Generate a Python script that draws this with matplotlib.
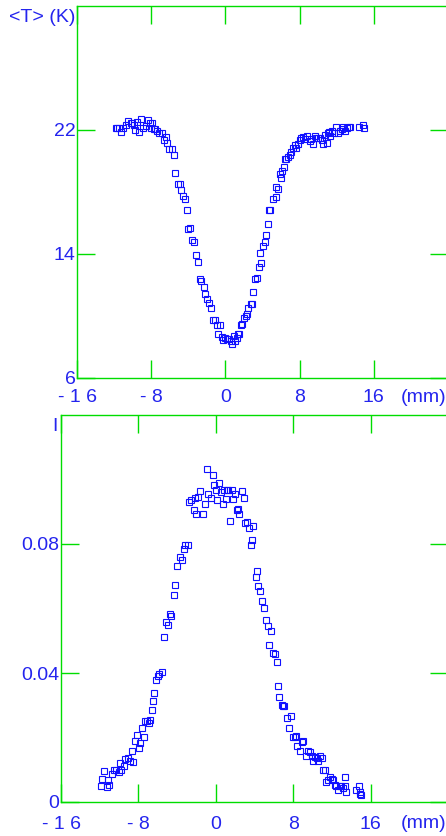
import matplotlib
matplotlib.use("Agg")
import matplotlib.pyplot as plt
from matplotlib.ticker import FixedLocator, FixedFormatter

plt.rcParams["font.family"] = ["Liberation Sans", "DejaVu Sans"]

GREEN = "#00dd00"
BLUE = "#2424ee"
MARK = "#1010ff"

# top panel: mean temperature vs position
top_x = [-11.82, -11.64, -11.46, -11.21, -11.0, -10.75, -10.5, -10.21, -10.04, -9.86,
         -9.79, -9.5, -9.32, -9.14, -8.86, -8.61, -8.36, -8.18, -8.0, -7.89,
         -7.71, -7.54, -7.36, -7.18, -6.82, -6.64, -6.39, -6.29, -6.04, -5.75,
         -5.57, -5.39, -5.11, -4.93, -4.75, -4.57, -4.39, -4.14, -4.04, -3.79,
         -3.61, -3.43, -3.18, -3.0, -2.79, -2.64, -2.36, -2.25, -2.0, -1.82,
         -1.57, -1.39, -1.11, -0.93, -0.57, -0.75, -0.39, -0.21, -0.04, 0.14,
         0.43, 0.57, 0.75, 0.93, 1.04, 1.21, 1.39, 1.5, 1.64, 1.82,
         2.0, 2.21, 2.36, 2.46, 2.71, 2.89, 3.0, 3.18, 3.46, 3.64,
         3.82, 3.71, 4.07, 4.25, 4.36, 4.54, 4.71, 4.86, 5.14, 5.43,
         5.5, 5.68, 5.86, 6.04, 6.14, 6.32, 6.43, 6.57, 6.75, 6.93,
         7.11, 7.29, 7.46, 7.64, 7.82, 8.0, 8.18, 8.36, 8.54, 8.79,
         9.07, 9.25, 9.43, 9.61, 9.79, 9.96, 10.21, 10.43, 10.5, 10.79,
         10.93, 11.04, 11.21, 11.29, 11.5, 11.75, 11.93, 12.11, 12.36, 12.57,
         12.71, 12.93, 13.07, 13.29, 13.43, 14.43, 14.86, 14.96]
top_t = [22.15, 22.11, 22.11, 21.89, 22.15, 22.32, 22.61, 22.43, 22.48, 22.32,
         22.0, 22.54, 21.89, 22.71, 22.11, 22.26, 22.65, 22.43, 22.11, 22.48,
         22.04, 22.04, 21.96, 21.83, 21.83, 21.35, 21.52, 21.14, 20.75, 20.75,
         20.38, 19.23, 18.54, 18.54, 18.11, 17.72, 17.57, 16.81, 15.62, 15.66,
         14.91, 14.76, 13.94, 13.5, 12.38, 12.27, 11.88, 11.41, 11.08, 10.86,
         10.54, 9.72, 9.72, 9.42, 9.42, 8.81, 8.64, 8.42, 8.59, 8.49,
         8.49, 8.38, 8.21, 8.70, 8.38, 8.59, 8.81, 8.85, 9.42, 9.46,
         9.89, 10.0, 10.11, 10.54, 10.76, 10.80, 11.58, 12.38, 12.44, 13.18,
         13.39, 14.06, 14.54, 14.80, 15.25, 15.95, 16.81, 16.81, 17.52, 17.68,
         18.32, 18.22, 19.19, 18.93, 19.36, 19.62, 20.10, 20.10, 20.27, 20.38,
         20.55, 20.81, 21.03, 20.81, 21.09, 21.35, 21.46, 21.52, 21.39, 21.61,
         21.31, 21.39, 21.09, 21.61, 21.50, 21.50, 21.46, 21.35, 21.09, 21.68,
         21.18, 21.78, 21.89, 21.61, 21.96, 21.83, 22.17, 21.83, 21.96, 22.04,
         22.17, 21.96, 22.11, 22.17, 22.17, 22.17, 22.32, 22.11]

# bottom panel: intensity vs position
bot_x = [-11.82, -11.75, -11.51, -11.24, -11.17, -11.0, -10.72, -10.48, -10.27, -10.03,
         -9.93, -9.79, -9.52, -9.35, -9.11, -8.90, -8.66, -8.56, -8.32, -8.14,
         -7.90, -7.87, -7.63, -7.46, -7.29, -7.11, -6.87, -6.77, -6.60, -6.53,
         -6.36, -6.15, -6.01, -5.84, -5.57, -5.40, -5.15, -4.95, -4.71, -4.60,
         -4.36, -4.19, -4.02, -3.75, -3.51, -3.33, -3.16, -2.92, -2.82, -2.58,
         -2.30, -2.20, -2.03, -1.79, -1.62, -1.37, -1.10, -0.93, -0.76, -0.52,
         -0.34, -0.17, 0.03, 0.17, 0.38, 0.52, 0.72, 0.86, 1.03, 1.13,
         1.31, 1.48, 1.65, 1.75, 1.96, 2.23, 2.34, 2.44, 2.68, 2.92,
         3.02, 3.20, 3.47, 3.64, 3.71, 3.81, 4.23, 4.16, 4.40, 4.57,
         4.78, 4.98, 5.15, 5.36, 5.67, 5.53, 5.88, 6.12, 6.29, 6.46,
         6.56, 6.80, 6.91, 7.04, 7.32, 7.56, 7.73, 7.94, 8.18, 8.25,
         8.42, 8.69, 8.87, 9.04, 9.31, 9.55, 9.73, 9.90, 10.00, 10.24,
         10.41, 10.58, 10.82, 10.93, 11.10, 11.27, 11.37, 11.62, 11.79, 11.96,
         12.13, 12.30, 12.47, 12.65, 12.82, 12.99, 13.16, 13.33, 13.44, 13.33,
         14.54, 14.81, 14.95, 15.05, 14.88]
bot_i = [0.0051, 0.0071, 0.0095, 0.0047, 0.0067, 0.0052, 0.0088, 0.0098, 0.0098, 0.0092,
         0.0121, 0.0098, 0.0113, 0.0134, 0.0136, 0.0126, 0.0157, 0.0123, 0.0190, 0.0209,
         0.0167, 0.0183, 0.0229, 0.0201, 0.0250, 0.0250, 0.0245, 0.0253, 0.0284, 0.0312,
         0.0338, 0.0379, 0.0390, 0.0397, 0.0402, 0.0511, 0.0557, 0.0550, 0.0584, 0.0578,
         0.0643, 0.0672, 0.0731, 0.0760, 0.0751, 0.0786, 0.0798, 0.0798, 0.0929, 0.0935,
         0.0906, 0.0942, 0.0893, 0.0946, 0.0963, 0.0894, 0.0923, 0.1033, 0.0956, 0.0943,
         0.1013, 0.0984, 0.0966, 0.0937, 0.0989, 0.0960, 0.0925, 0.0966, 0.0940, 0.0968,
         0.0966, 0.0870, 0.0966, 0.0940, 0.0956, 0.0906, 0.0909, 0.0893, 0.0965, 0.0943,
         0.0865, 0.0868, 0.0850, 0.0798, 0.0813, 0.0855, 0.0715, 0.0697, 0.0669, 0.0653,
         0.0624, 0.0602, 0.0565, 0.0547, 0.0531, 0.0488, 0.0462, 0.0459, 0.0433, 0.0361,
         0.0325, 0.0300, 0.0299, 0.0299, 0.0260, 0.0229, 0.0266, 0.0201, 0.0202, 0.0206,
         0.0173, 0.0157, 0.0185, 0.0188, 0.0142, 0.0157, 0.0154, 0.0142, 0.0126, 0.0138,
         0.0136, 0.0126, 0.0142, 0.0136, 0.0100, 0.0100, 0.0061, 0.0067, 0.0076, 0.0071,
         0.0067, 0.0054, 0.0049, 0.0038, 0.0051, 0.0049, 0.0043, 0.0078, 0.0030, 0.0049,
         0.0038, 0.0049, 0.0026, 0.0023, 0.0030]

x_ticks = [-16, -8, 0, 8, 16]
x_labels = ["- 1 6", "- 8", "0", "8", "16"]
top_yticks = [6, 14, 22]
top_ylabels = ["6", "14", "22"]
bot_yticks = [0, 0.04, 0.08]
bot_ylabels = ["0", "0.04", "0.08"]

FS = 14


def style(ax, xpad):
    for s in ax.spines.values():
        s.set_color(GREEN)
        s.set_linewidth(1.0)
    ax.tick_params(which="both", direction="in", length=13, width=1.0,
                   color=GREEN, labelcolor=BLUE, labelsize=FS,
                   top=True, right=True)
    ax.tick_params(axis="x", pad=xpad)
    ax.tick_params(axis="y", pad=1)
    ax.set_xlim(-16, 24)
    ax.xaxis.set_major_locator(FixedLocator(x_ticks))
    ax.xaxis.set_major_formatter(FixedFormatter(x_labels))


W, H = 446, 836
fig = plt.figure(figsize=(W / 100, H / 100), dpi=100)

# top
ax1 = fig.add_axes([77 / W, (H - 378) / H, 371 / W, 372 / H])
style(ax1, 8)
ax1.set_ylim(6, 30)
ax1.yaxis.set_major_locator(FixedLocator(top_yticks))
ax1.yaxis.set_major_formatter(FixedFormatter(top_ylabels))
ax1.plot(top_x, top_t, ls="none", marker="s", ms=4, mfc="none",
         mec=MARK, mew=0.8)
fig.text(75 / W, 1 - 17 / H, "<T> (K)", color=BLUE, fontsize=FS,
         ha="right", va="center")
fig.text(446 / W, 1 - 398 / H, "(mm)", color=BLUE, fontsize=FS,
         ha="right", va="center")

# bottom
ax2 = fig.add_axes([61 / W, 34 / H, 387 / W, 387 / H])
style(ax2, 10)
ax2.set_ylim(0, 0.12)
ax2.yaxis.set_major_locator(FixedLocator(bot_yticks))
ax2.yaxis.set_major_formatter(FixedFormatter(bot_ylabels))
ax2.plot(bot_x, bot_i, ls="none", marker="s", ms=4, mfc="none",
         mec=MARK, mew=0.8)
fig.text(58 / W, 1 - 426 / H, "I", color=BLUE, fontsize=FS,
         ha="right", va="center")
fig.text(446 / W, 1 - 823 / H, "(mm)", color=BLUE, fontsize=FS,
         ha="right", va="center")

fig.savefig("out.png", dpi=100)
